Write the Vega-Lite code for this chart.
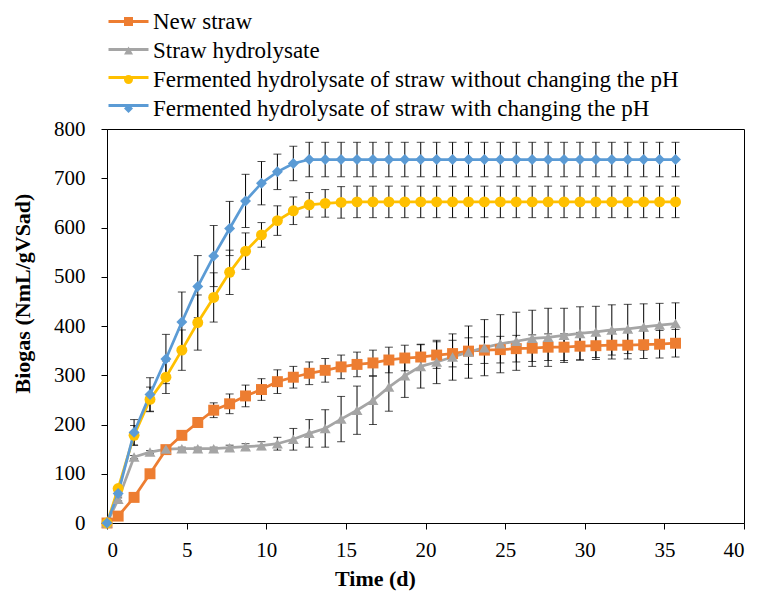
{
  "$schema": "https://vega.github.io/schema/vega-lite/v6.json",
  "width": 637,
  "height": 394,
  "autosize": {"type": "none"},
  "padding": {"left": 107, "top": 129, "right": 15, "bottom": 72},
  "config": {
    "font": "Liberation Serif",
    "view": {"stroke": "black", "strokeWidth": 1},
    "axis": {
      "grid": false,
      "domainColor": "black",
      "tickColor": "black",
      "labelColor": "black",
      "titleColor": "black",
      "labelFont": "Liberation Serif",
      "titleFont": "Liberation Serif",
      "labelFontSize": 21,
      "titleFontSize": 22,
      "titleFontWeight": "bold",
      "tickSize": 6
    },
    "legend": {
      "labelFont": "Liberation Serif",
      "labelFontSize": 23,
      "labelColor": "black"
    }
  },
  "data": {
    "values": [
      {"series": "New straw", "t": 0, "v": 0, "err": 0},
      {"series": "New straw", "t": 0.7, "v": 14, "err": 3},
      {"series": "New straw", "t": 1.7, "v": 52, "err": 4},
      {"series": "New straw", "t": 2.7, "v": 100, "err": 5},
      {"series": "New straw", "t": 3.7, "v": 149, "err": 6},
      {"series": "New straw", "t": 4.7, "v": 178, "err": 8},
      {"series": "New straw", "t": 5.7, "v": 204, "err": 10},
      {"series": "New straw", "t": 6.7, "v": 229, "err": 15},
      {"series": "New straw", "t": 7.7, "v": 242, "err": 20},
      {"series": "New straw", "t": 8.7, "v": 258, "err": 22},
      {"series": "New straw", "t": 9.7, "v": 271, "err": 22},
      {"series": "New straw", "t": 10.7, "v": 287, "err": 24},
      {"series": "New straw", "t": 11.7, "v": 296, "err": 22},
      {"series": "New straw", "t": 12.7, "v": 304, "err": 23},
      {"series": "New straw", "t": 13.7, "v": 310, "err": 24},
      {"series": "New straw", "t": 14.7, "v": 317, "err": 24},
      {"series": "New straw", "t": 15.7, "v": 322, "err": 25},
      {"series": "New straw", "t": 16.7, "v": 325, "err": 26},
      {"series": "New straw", "t": 17.7, "v": 331, "err": 26},
      {"series": "New straw", "t": 18.7, "v": 335, "err": 26},
      {"series": "New straw", "t": 19.7, "v": 337, "err": 26},
      {"series": "New straw", "t": 20.7, "v": 341, "err": 27},
      {"series": "New straw", "t": 21.7, "v": 344, "err": 27},
      {"series": "New straw", "t": 22.7, "v": 349, "err": 27},
      {"series": "New straw", "t": 23.7, "v": 351, "err": 27},
      {"series": "New straw", "t": 24.7, "v": 352, "err": 27},
      {"series": "New straw", "t": 25.7, "v": 354, "err": 27},
      {"series": "New straw", "t": 26.7, "v": 355, "err": 27},
      {"series": "New straw", "t": 27.7, "v": 357, "err": 27},
      {"series": "New straw", "t": 28.7, "v": 357, "err": 27},
      {"series": "New straw", "t": 29.7, "v": 359, "err": 28},
      {"series": "New straw", "t": 30.7, "v": 360, "err": 28},
      {"series": "New straw", "t": 31.7, "v": 361, "err": 28},
      {"series": "New straw", "t": 32.7, "v": 361, "err": 28},
      {"series": "New straw", "t": 33.7, "v": 362, "err": 28},
      {"series": "New straw", "t": 34.7, "v": 363, "err": 28},
      {"series": "New straw", "t": 35.7, "v": 365, "err": 28},

      {"series": "Straw hydrolysate", "t": 0, "v": 0, "err": 0},
      {"series": "Straw hydrolysate", "t": 0.7, "v": 48, "err": 3},
      {"series": "Straw hydrolysate", "t": 1.7, "v": 134, "err": 3},
      {"series": "Straw hydrolysate", "t": 2.7, "v": 144, "err": 3},
      {"series": "Straw hydrolysate", "t": 3.7, "v": 150, "err": 3},
      {"series": "Straw hydrolysate", "t": 4.7, "v": 151, "err": 3},
      {"series": "Straw hydrolysate", "t": 5.7, "v": 151, "err": 3},
      {"series": "Straw hydrolysate", "t": 6.7, "v": 151, "err": 3},
      {"series": "Straw hydrolysate", "t": 7.7, "v": 153, "err": 5},
      {"series": "Straw hydrolysate", "t": 8.7, "v": 155, "err": 6},
      {"series": "Straw hydrolysate", "t": 9.7, "v": 157, "err": 8},
      {"series": "Straw hydrolysate", "t": 10.7, "v": 161, "err": 13},
      {"series": "Straw hydrolysate", "t": 11.7, "v": 170, "err": 22},
      {"series": "Straw hydrolysate", "t": 12.7, "v": 182, "err": 28},
      {"series": "Straw hydrolysate", "t": 13.7, "v": 192, "err": 38},
      {"series": "Straw hydrolysate", "t": 14.7, "v": 211, "err": 46},
      {"series": "Straw hydrolysate", "t": 15.7, "v": 229, "err": 49},
      {"series": "Straw hydrolysate", "t": 16.7, "v": 249, "err": 49},
      {"series": "Straw hydrolysate", "t": 17.7, "v": 276, "err": 49},
      {"series": "Straw hydrolysate", "t": 18.7, "v": 299, "err": 44},
      {"series": "Straw hydrolysate", "t": 19.7, "v": 318, "err": 44},
      {"series": "Straw hydrolysate", "t": 20.7, "v": 327, "err": 44},
      {"series": "Straw hydrolysate", "t": 21.7, "v": 337, "err": 47},
      {"series": "Straw hydrolysate", "t": 22.7, "v": 347, "err": 53},
      {"series": "Straw hydrolysate", "t": 23.7, "v": 356, "err": 57},
      {"series": "Straw hydrolysate", "t": 24.7, "v": 364, "err": 59},
      {"series": "Straw hydrolysate", "t": 25.7, "v": 369, "err": 59},
      {"series": "Straw hydrolysate", "t": 26.7, "v": 375, "err": 57},
      {"series": "Straw hydrolysate", "t": 27.7, "v": 377, "err": 59},
      {"series": "Straw hydrolysate", "t": 28.7, "v": 381, "err": 55},
      {"series": "Straw hydrolysate", "t": 29.7, "v": 385, "err": 54},
      {"series": "Straw hydrolysate", "t": 30.7, "v": 388, "err": 52},
      {"series": "Straw hydrolysate", "t": 31.7, "v": 392, "err": 51},
      {"series": "Straw hydrolysate", "t": 32.7, "v": 394, "err": 50},
      {"series": "Straw hydrolysate", "t": 33.7, "v": 398, "err": 47},
      {"series": "Straw hydrolysate", "t": 34.7, "v": 402, "err": 44},
      {"series": "Straw hydrolysate", "t": 35.7, "v": 405, "err": 42},

      {"series": "Fermented hydrolysate of straw without changing the pH", "t": 0, "v": 0, "err": 0},
      {"series": "Fermented hydrolysate of straw without changing the pH", "t": 0.7, "v": 70, "err": 5},
      {"series": "Fermented hydrolysate of straw without changing the pH", "t": 1.7, "v": 178, "err": 20},
      {"series": "Fermented hydrolysate of straw without changing the pH", "t": 2.7, "v": 251, "err": 25},
      {"series": "Fermented hydrolysate of straw without changing the pH", "t": 3.7, "v": 296, "err": 33},
      {"series": "Fermented hydrolysate of straw without changing the pH", "t": 4.7, "v": 351, "err": 41},
      {"series": "Fermented hydrolysate of straw without changing the pH", "t": 5.7, "v": 407, "err": 56},
      {"series": "Fermented hydrolysate of straw without changing the pH", "t": 6.7, "v": 458, "err": 50},
      {"series": "Fermented hydrolysate of straw without changing the pH", "t": 7.7, "v": 509, "err": 45},
      {"series": "Fermented hydrolysate of straw without changing the pH", "t": 8.7, "v": 552, "err": 37},
      {"series": "Fermented hydrolysate of straw without changing the pH", "t": 9.7, "v": 585, "err": 25},
      {"series": "Fermented hydrolysate of straw without changing the pH", "t": 10.7, "v": 614, "err": 30},
      {"series": "Fermented hydrolysate of straw without changing the pH", "t": 11.7, "v": 634, "err": 28},
      {"series": "Fermented hydrolysate of straw without changing the pH", "t": 12.7, "v": 646, "err": 25},
      {"series": "Fermented hydrolysate of straw without changing the pH", "t": 13.7, "v": 649, "err": 28},
      {"series": "Fermented hydrolysate of straw without changing the pH", "t": 14.7, "v": 651, "err": 32},
      {"series": "Fermented hydrolysate of straw without changing the pH", "t": 15.7, "v": 652, "err": 32},
      {"series": "Fermented hydrolysate of straw without changing the pH", "t": 16.7, "v": 652, "err": 32},
      {"series": "Fermented hydrolysate of straw without changing the pH", "t": 17.7, "v": 652, "err": 32},
      {"series": "Fermented hydrolysate of straw without changing the pH", "t": 18.7, "v": 652, "err": 32},
      {"series": "Fermented hydrolysate of straw without changing the pH", "t": 19.7, "v": 652, "err": 32},
      {"series": "Fermented hydrolysate of straw without changing the pH", "t": 20.7, "v": 652, "err": 32},
      {"series": "Fermented hydrolysate of straw without changing the pH", "t": 21.7, "v": 652, "err": 32},
      {"series": "Fermented hydrolysate of straw without changing the pH", "t": 22.7, "v": 652, "err": 32},
      {"series": "Fermented hydrolysate of straw without changing the pH", "t": 23.7, "v": 652, "err": 32},
      {"series": "Fermented hydrolysate of straw without changing the pH", "t": 24.7, "v": 652, "err": 32},
      {"series": "Fermented hydrolysate of straw without changing the pH", "t": 25.7, "v": 652, "err": 32},
      {"series": "Fermented hydrolysate of straw without changing the pH", "t": 26.7, "v": 652, "err": 32},
      {"series": "Fermented hydrolysate of straw without changing the pH", "t": 27.7, "v": 652, "err": 32},
      {"series": "Fermented hydrolysate of straw without changing the pH", "t": 28.7, "v": 652, "err": 32},
      {"series": "Fermented hydrolysate of straw without changing the pH", "t": 29.7, "v": 652, "err": 32},
      {"series": "Fermented hydrolysate of straw without changing the pH", "t": 30.7, "v": 652, "err": 32},
      {"series": "Fermented hydrolysate of straw without changing the pH", "t": 31.7, "v": 652, "err": 32},
      {"series": "Fermented hydrolysate of straw without changing the pH", "t": 32.7, "v": 652, "err": 32},
      {"series": "Fermented hydrolysate of straw without changing the pH", "t": 33.7, "v": 652, "err": 32},
      {"series": "Fermented hydrolysate of straw without changing the pH", "t": 34.7, "v": 652, "err": 32},
      {"series": "Fermented hydrolysate of straw without changing the pH", "t": 35.7, "v": 652, "err": 32},

      {"series": "Fermented hydrolysate of straw with changing the pH", "t": 0, "v": 0, "err": 0},
      {"series": "Fermented hydrolysate of straw with changing the pH", "t": 0.7, "v": 60, "err": 5},
      {"series": "Fermented hydrolysate of straw with changing the pH", "t": 1.7, "v": 184, "err": 26},
      {"series": "Fermented hydrolysate of straw with changing the pH", "t": 2.7, "v": 261, "err": 34},
      {"series": "Fermented hydrolysate of straw with changing the pH", "t": 3.7, "v": 333, "err": 50},
      {"series": "Fermented hydrolysate of straw with changing the pH", "t": 4.7, "v": 408, "err": 61},
      {"series": "Fermented hydrolysate of straw with changing the pH", "t": 5.7, "v": 480, "err": 63},
      {"series": "Fermented hydrolysate of straw with changing the pH", "t": 6.7, "v": 542, "err": 62},
      {"series": "Fermented hydrolysate of straw with changing the pH", "t": 7.7, "v": 598, "err": 55},
      {"series": "Fermented hydrolysate of straw with changing the pH", "t": 8.7, "v": 654, "err": 54},
      {"series": "Fermented hydrolysate of straw with changing the pH", "t": 9.7, "v": 690, "err": 44},
      {"series": "Fermented hydrolysate of straw with changing the pH", "t": 10.7, "v": 713, "err": 36},
      {"series": "Fermented hydrolysate of straw with changing the pH", "t": 11.7, "v": 730, "err": 35},
      {"series": "Fermented hydrolysate of straw with changing the pH", "t": 12.7, "v": 738, "err": 35},
      {"series": "Fermented hydrolysate of straw with changing the pH", "t": 13.7, "v": 738, "err": 35},
      {"series": "Fermented hydrolysate of straw with changing the pH", "t": 14.7, "v": 738, "err": 35},
      {"series": "Fermented hydrolysate of straw with changing the pH", "t": 15.7, "v": 738, "err": 35},
      {"series": "Fermented hydrolysate of straw with changing the pH", "t": 16.7, "v": 738, "err": 35},
      {"series": "Fermented hydrolysate of straw with changing the pH", "t": 17.7, "v": 738, "err": 35},
      {"series": "Fermented hydrolysate of straw with changing the pH", "t": 18.7, "v": 738, "err": 35},
      {"series": "Fermented hydrolysate of straw with changing the pH", "t": 19.7, "v": 738, "err": 35},
      {"series": "Fermented hydrolysate of straw with changing the pH", "t": 20.7, "v": 738, "err": 35},
      {"series": "Fermented hydrolysate of straw with changing the pH", "t": 21.7, "v": 738, "err": 35},
      {"series": "Fermented hydrolysate of straw with changing the pH", "t": 22.7, "v": 738, "err": 35},
      {"series": "Fermented hydrolysate of straw with changing the pH", "t": 23.7, "v": 738, "err": 35},
      {"series": "Fermented hydrolysate of straw with changing the pH", "t": 24.7, "v": 738, "err": 35},
      {"series": "Fermented hydrolysate of straw with changing the pH", "t": 25.7, "v": 738, "err": 35},
      {"series": "Fermented hydrolysate of straw with changing the pH", "t": 26.7, "v": 738, "err": 35},
      {"series": "Fermented hydrolysate of straw with changing the pH", "t": 27.7, "v": 738, "err": 35},
      {"series": "Fermented hydrolysate of straw with changing the pH", "t": 28.7, "v": 738, "err": 35},
      {"series": "Fermented hydrolysate of straw with changing the pH", "t": 29.7, "v": 738, "err": 35},
      {"series": "Fermented hydrolysate of straw with changing the pH", "t": 30.7, "v": 738, "err": 35},
      {"series": "Fermented hydrolysate of straw with changing the pH", "t": 31.7, "v": 738, "err": 35},
      {"series": "Fermented hydrolysate of straw with changing the pH", "t": 32.7, "v": 738, "err": 35},
      {"series": "Fermented hydrolysate of straw with changing the pH", "t": 33.7, "v": 738, "err": 35},
      {"series": "Fermented hydrolysate of straw with changing the pH", "t": 34.7, "v": 738, "err": 35},
      {"series": "Fermented hydrolysate of straw with changing the pH", "t": 35.7, "v": 738, "err": 35}
    ]
  },
  "encoding": {
    "x": {
      "field": "t",
      "type": "quantitative",
      "scale": {"domain": [0, 40], "nice": false},
      "axis": {
        "title": "Time (d)",
        "values": [0, 5, 10, 15, 20, 25, 30, 35, 40],
        "labelPadding": 10,
        "titleX": 268,
        "titleY": 45
      }
    },
    "y": {
      "field": "v",
      "type": "quantitative",
      "scale": {"domain": [0, 800], "nice": false},
      "axis": {
        "title": "Biogas (NmL/gVSad)",
        "values": [0, 100, 200, 300, 400, 500, 600, 700, 800],
        "labelPadding": 16,
        "titleX": -73,
        "titleY": 164
      }
    }
  },
  "layer": [
    {
      "mark": {
        "type": "errorbar",
        "color": "black",
        "thickness": 1,
        "ticks": {"size": 8, "thickness": 1, "color": "black"}
      },
      "encoding": {
        "yError": {"field": "err"}
      }
    },
    {
      "mark": {"type": "line", "strokeWidth": 2.75},
      "encoding": {
        "stroke": {
          "field": "series",
          "type": "nominal",
          "sort": null,
          "scale": {"range": ["#ED7D31", "#A5A5A5", "#FFC000", "#5B9BD5"]},
          "legend": {
            "title": null,
            "orient": "none",
            "legendX": 0,
            "legendY": -119,
            "direction": "vertical",
            "padding": 0,
            "symbolType": "stroke",
            "symbolSize": 1600,
            "symbolStrokeWidth": 3,
            "clipHeight": 23,
            "rowPadding": 5,
            "labelFontSize": 10,
            "labelExpr": "''"
          }
        }
      }
    },
    {
      "mark": {"type": "point", "filled": true, "opacity": 1, "size": 120},
      "encoding": {
        "color": {
          "field": "series",
          "type": "nominal",
          "scale": {
            "domain": [
              "New straw",
              "Straw hydrolysate",
              "Fermented hydrolysate of straw without changing the pH",
              "Fermented hydrolysate of straw with changing the pH"
            ],
            "range": ["#ED7D31", "#A5A5A5", "#FFC000", "#5B9BD5"]
          },
          "legend": {
            "title": null,
            "orient": "none",
            "legendX": 10,
            "legendY": -119,
            "direction": "vertical",
            "padding": 0,
            "symbolSize": 81,
            "labelOffset": 13,
            "rowPadding": 5,
            "labelLimit": 700
          }
        },
        "shape": {
          "field": "series",
          "type": "nominal",
          "scale": {
            "domain": [
              "New straw",
              "Straw hydrolysate",
              "Fermented hydrolysate of straw without changing the pH",
              "Fermented hydrolysate of straw with changing the pH"
            ],
            "range": ["square", "triangle-up", "circle", "diamond"]
          },
          "legend": {
            "title": null,
            "orient": "none",
            "legendX": 10,
            "legendY": -119,
            "direction": "vertical",
            "padding": 0,
            "symbolSize": 81,
            "labelOffset": 13,
            "rowPadding": 5,
            "labelLimit": 700
          }
        }
      }
    }
  ]
}
